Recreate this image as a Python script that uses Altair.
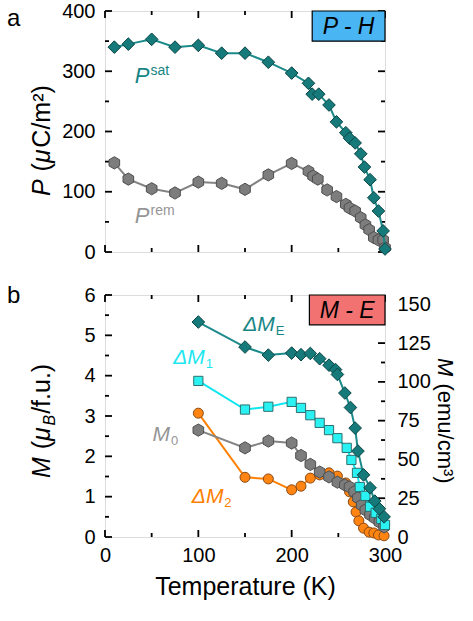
import altair as alt
import pandas as pd

# ---------------- data ----------------
# panel a : P-H loops
T_sat = [10, 25, 50, 75, 100, 125, 150, 175, 200, 218, 222, 229, 240, 248, 258, 262, 268, 274, 278, 284, 288, 293, 298, 300]
P_sat = [340, 345, 353, 340, 343, 330, 330, 315, 297, 280, 262, 262, 244, 216, 198, 189, 181, 163, 141, 120, 90, 68, 35, 5]
T_rem = [10, 25, 50, 75, 100, 125, 150, 175, 200, 218, 223, 228, 238, 248, 258, 262, 268, 274, 279, 283, 288, 293, 298, 300]
P_rem = [148, 121, 105, 98, 116, 114, 104, 128, 147, 134, 126, 121, 103, 92, 79, 73, 68, 57, 45, 37, 24, 20, 20, 7]

# panel b : M-E loops
T_ME = [100, 150, 175, 200, 210, 220, 230, 240, 247, 249, 257, 263, 268, 271, 277, 284, 289, 294, 299]
M_ME = [5.33, 4.71, 4.51, 4.56, 4.52, 4.55, 4.42, 4.26, 4.15, 4.03, 3.57, 3.21, 2.70, 2.13, 1.54, 1.22, 0.89, 0.70, 0.50]
T_M1 = [100, 150, 175, 200, 210, 220, 230, 240, 249, 259, 264, 270, 273, 279, 284, 290, 296, 300]
M_M1 = [3.87, 3.16, 3.23, 3.35, 3.20, 3.02, 2.83, 2.65, 2.45, 2.21, 1.91, 1.59, 1.24, 1.02, 0.75, 0.60, 0.45, 0.30]
T_M0 = [100, 150, 175, 200, 210, 220, 230, 240, 249, 257, 262, 267, 271, 275, 279, 284, 289, 294, 299]
M_M0 = [2.65, 2.21, 2.38, 2.33, 2.02, 1.80, 1.61, 1.49, 1.36, 1.29, 1.24, 1.12, 0.97, 0.79, 0.67, 0.55, 0.47, 0.37, 0.25]
T_M2 = [100, 150, 175, 200, 210, 220, 230, 240, 249, 258, 262, 266, 269, 272, 277, 283, 288, 293, 299]
M_M2 = [3.07, 1.48, 1.44, 1.17, 1.26, 1.46, 1.54, 1.59, 1.51, 1.34, 1.12, 0.87, 0.62, 0.40, 0.22, 0.12, 0.10, 0.05, 0.03]

EMU_PER_MUB = 26  # right axis: emu/cm^3 per muB/f.u.

# tick values (major = labelled, minor = short tick only)
X_MAJOR, X_MINOR = [0, 100, 200, 300], [50, 150, 250]
YP_MAJOR, YP_MINOR = [0, 100, 200, 300, 400], [50, 150, 250, 350]
YM_MAJOR, YM_MINOR = [0, 1, 2, 3, 4, 5, 6], [0.5, 1.5, 2.5, 3.5, 4.5, 5.5]
YE_MAJOR, YE_MINOR = [0, 25, 50, 75, 100, 125, 150], [12.5, 37.5, 62.5, 87.5, 112.5, 137.5]

# ---------------- style ----------------
FONT = "Liberation Sans"
W, H_TOP, H_BOT = 280, 241, 242
BIG, SMALL = 7, 4

TEAL_FILL, TEAL_EDGE, TEAL_LINE, TEAL_TXT = "#177a7a", "#0a4545", "#1b8a8a", "#178585"
GRAY_FILL, GRAY_EDGE, GRAY_LINE, GRAY_TXT = "#7d7d7d", "#4f4f4f", "#838383", "#959595"
CYAN_FILL, CYAN_EDGE, CYAN_LINE, CYAN_TXT = "#2af2f2", "#2f6f6f", "#10e6ee", "#1ee6f0"
ORNG_FILL, ORNG_EDGE, ORNG_LINE, ORNG_TXT = "#ff8412", "#8a4a12", "#ff8000", "#ff8000"
PH_BOX, ME_BOX = "#4ab5f3", "#f27272"

HEX = "M0,-1L0.866,-0.5L0.866,0.5L0,1L-0.866,0.5L-0.866,-0.5Z"

ARIAL = {'P': .667, ' ': .278, '(': .333, ')': .333, 'μ': .576, 'C': .722, '/': .278,
         'm': .833, '²': .333, '³': .333, 'M': .833, 'B': .667, 'f': .278, '.': .278,
         'u': .556, 'e': .556, 'c': .5, 'Δ': .668, 'E': .667, 's': .5, 'a': .556,
         't': .278, 'r': .333, '0': .556, '1': .556, '2': .556}


def tw(s, size):
    return sum(ARIAL.get(c, 0.556) for c in s) * size


ONE = pd.DataFrame({"k": [0]})
xs = alt.Scale(domain=[0, 300], nice=False, zero=False)
yP = alt.Scale(domain=[0, 400], nice=False, zero=False)
yM = alt.Scale(domain=[0, 6], nice=False, zero=False)
yE = alt.Scale(domain=[0, 6 * EMU_PER_MUB], nice=False, zero=False)


def label_axis(orient, values, gap, title=None):
    kw = dict(orient=orient, values=values, domain=False, grid=False, ticks=False,
              labels=True, labelPadding=gap, labelFont=FONT, labelFontSize=20,
              labelColor="black", labelOverlap=False, labelFlush=False, labelBound=False,
              format="d")
    if title:
        kw.update(title=title, titleFont=FONT, titleFontSize=25, titleFontWeight="normal",
                  titleColor="black", titlePadding=9)
    else:
        kw.update(title=None)
    return alt.Axis(**kw)


def ticks_x(values, length, H):
    df = pd.DataFrame({"t": values})
    out = []
    for y0, y1 in ((H, H - length), (0, length)):
        out.append(alt.Chart(df).mark_rule(color="black", strokeWidth=1.8).encode(
            x=alt.X("t:Q", scale=xs, axis=None), y=alt.value(y0), y2=alt.value(y1)))
    return out


def ticks_y(values, length, yscale, sides=("left", "right")):
    df = pd.DataFrame({"t": values})
    out = []
    for side in sides:
        x0, x1 = (0, length) if side == "left" else (W, W - length)
        out.append(alt.Chart(df).mark_rule(color="black", strokeWidth=1.8).encode(
            y=alt.Y("t:Q", scale=yscale, axis=None), x=alt.value(x0), x2=alt.value(x1)))
    return out


def series(T, V, yscale, line_color, shape, size, fill, edge, xaxis=None, yaxis=None):
    df = pd.DataFrame({"T": T, "V": V})
    line = alt.Chart(df).mark_line(color=line_color, strokeWidth=2).encode(
        x=alt.X("T:Q", scale=xs, axis=xaxis), y=alt.Y("V:Q", scale=yscale, axis=yaxis))
    pts = alt.Chart(df).mark_point(shape=shape, filled=True, size=size, fill=fill, stroke=edge,
                                   strokeWidth=1, opacity=1).encode(
        x=alt.X("T:Q", scale=xs, axis=None), y=alt.Y("V:Q", scale=yscale, axis=None))
    return [line, pts]


def anno(pieces, xv, yv, color, yscale):
    out, dx = [], 0.0
    df = pd.DataFrame({"x": [xv], "y": [yv]})
    for txt, it, size, dy in pieces:
        out.append(alt.Chart(df).mark_text(
            text=txt, font=FONT, fontSize=size, fontStyle="italic" if it else "normal",
            align="left", baseline="alphabetic", dx=dx, dy=dy, color=color).encode(
            x=alt.X("x:Q", scale=xs, axis=None), y=alt.Y("y:Q", scale=yscale, axis=None)))
        dx += tw(txt, size) + (1 if it else 0)
    return out


def rot_title(pieces, x0, y0, angle):
    out, pos = [], 0.0
    for txt, it, size, shift in pieces:
        lead = len(txt) - len(txt.lstrip(" "))
        pos += tw(" " * lead, size)
        txt = txt.lstrip(" ")
        if angle == 270:
            x, y = x0 + shift, y0 - pos
        else:
            x, y = x0 - shift, y0 + pos
        out.append(alt.Chart(ONE).mark_text(
            text=txt, font=FONT, fontSize=size, fontStyle="italic" if it else "normal",
            angle=angle, align="left", baseline="alphabetic", color="black").encode(
            x=alt.value(x), y=alt.value(y)))
        pos += tw(txt, size) + (1 if it else 0)
    return out


def box(x1, x2, y1, y2, color, label, yscale):
    df = pd.DataFrame({"x1": [x1], "x2": [x2], "y1": [y1], "y2": [y2],
                       "xc": [(x1 + x2) / 2], "yc": [(y1 + y2) / 2]})
    r = alt.Chart(df).mark_rect(fill=color, stroke="black", strokeWidth=1.2).encode(
        x=alt.X("x1:Q", scale=xs, axis=None), x2="x2:Q",
        y=alt.Y("y1:Q", scale=yscale, axis=None), y2="y2:Q")
    t = alt.Chart(df).mark_text(text=label, font=FONT, fontSize=23, fontStyle="italic",
                                color="black", align="center", baseline="middle", dy=1).encode(
        x=alt.X("xc:Q", scale=xs, axis=None), y=alt.Y("yc:Q", scale=yscale, axis=None))
    return [r, t]


def panel_letter(letter, y):
    return alt.Chart(ONE).mark_text(text=letter, font=FONT, fontSize=24, align="left",
                                    baseline="alphabetic", color="black").encode(
        x=alt.value(-98), y=alt.value(y))


# ---------------- panel a ----------------
top_layers = []
top_layers += ticks_x(X_MAJOR, BIG, H_TOP) + ticks_x(X_MINOR, SMALL, H_TOP)
top_layers += ticks_y(YP_MAJOR, BIG, yP) + ticks_y(YP_MINOR, SMALL, yP)
top_layers += series(T_rem, P_rem, yP, GRAY_LINE, HEX, 150, GRAY_FILL, GRAY_EDGE)
top_layers += series(T_sat, P_sat, yP, TEAL_LINE, "diamond", 160, TEAL_FILL, TEAL_EDGE,
                     yaxis=label_axis("left", YP_MAJOR, 10))
top_layers += anno([("P", True, 22, 0), ("sat", False, 14, -8)], 32, 280, TEAL_TXT, yP)
top_layers += anno([("P", True, 22, 0), ("rem", False, 14, -8)], 32, 48, GRAY_TXT, yP)
top_layers += box(222, 300, 350, 400, PH_BOX, "P - H", yP)
top_layers += rot_title([("P", True, 25, 0), (" (", False, 25, 0), ("μ", True, 25, 0),
                         ("C/m²)", False, 25, 0)], -55, 185, 270)
top_layers.append(panel_letter("a", 15))

top = alt.layer(*top_layers).resolve_axis(x="independent", y="independent").properties(
    width=W, height=H_TOP)

# ---------------- panel b ----------------
bot_layers = []
bot_layers += ticks_x(X_MAJOR, BIG, H_BOT) + ticks_x(X_MINOR, SMALL, H_BOT)
bot_layers += ticks_y(YM_MAJOR, BIG, yM, ("left",)) + ticks_y(YM_MINOR, SMALL, yM, ("left",))
bot_layers += ticks_y(YE_MAJOR, BIG, yE, ("right",)) + ticks_y(YE_MINOR, SMALL, yE, ("right",))
bot_layers += series(T_M2, M_M2, yM, ORNG_LINE, "circle", 100, ORNG_FILL, ORNG_EDGE)
bot_layers += series(T_M0, M_M0, yM, GRAY_LINE, HEX, 150, GRAY_FILL, GRAY_EDGE)
bot_layers += series(T_M1, M_M1, yM, CYAN_LINE, "square", 85, CYAN_FILL, CYAN_EDGE)
bot_layers += series(T_ME, M_ME, yM, TEAL_LINE, "diamond", 160, TEAL_FILL, TEAL_EDGE,
                     xaxis=label_axis("bottom", X_MAJOR, 8, title="Temperature (K)"),
                     yaxis=label_axis("left", YM_MAJOR, 10))
emu = alt.Chart(pd.DataFrame({"T": T_ME, "M": M_ME})).transform_calculate(
    emu=f"datum.M * {EMU_PER_MUB}").mark_point(opacity=0).encode(
    x=alt.X("T:Q", scale=xs, axis=None),
    y=alt.Y("emu:Q", scale=yE, axis=label_axis("right", YE_MAJOR, 12)))
bot_layers.append(emu)
bot_layers += anno([("ΔM", True, 21, 0), ("E", False, 13, 4)], 148, 5.11, TEAL_TXT, yM)
bot_layers += anno([("ΔM", True, 21, 0), ("1", False, 13, 4)], 73, 4.29, CYAN_TXT, yM)
bot_layers += anno([("M", True, 21, 0), ("0", False, 13, 4)], 51, 2.38, GRAY_TXT, yM)
bot_layers += anno([("ΔM", True, 21, 0), ("2", False, 13, 4)], 93, 0.84, ORNG_TXT, yM)
bot_layers += box(219, 300, 5.26, 6, ME_BOX, "M - E", yM)
bot_layers += rot_title([("M", True, 25, 0), (" (", False, 25, 0), ("μ", True, 25, 0),
                         ("B", True, 16, 5), ("/f.u.)", False, 25, 0)], -55, 183, 270)
bot_layers += rot_title([("M", True, 22, 0), (" (emu/cm³)", False, 22, 0)], 333, 63, 90)
bot_layers.append(panel_letter("b", 8))

bottom = alt.layer(*bot_layers).resolve_scale(y="independent").resolve_axis(
    x="independent", y="independent").properties(width=W, height=H_BOT)

chart = alt.vconcat(top, bottom, spacing=20).properties(
    padding={"left": 6, "top": 0, "right": 5, "bottom": 5}, background="white"
).configure_view(stroke="black", strokeWidth=2).configure(font=FONT)

chart.save("out.html", embed_options={"renderer": "svg", "actions": False})
